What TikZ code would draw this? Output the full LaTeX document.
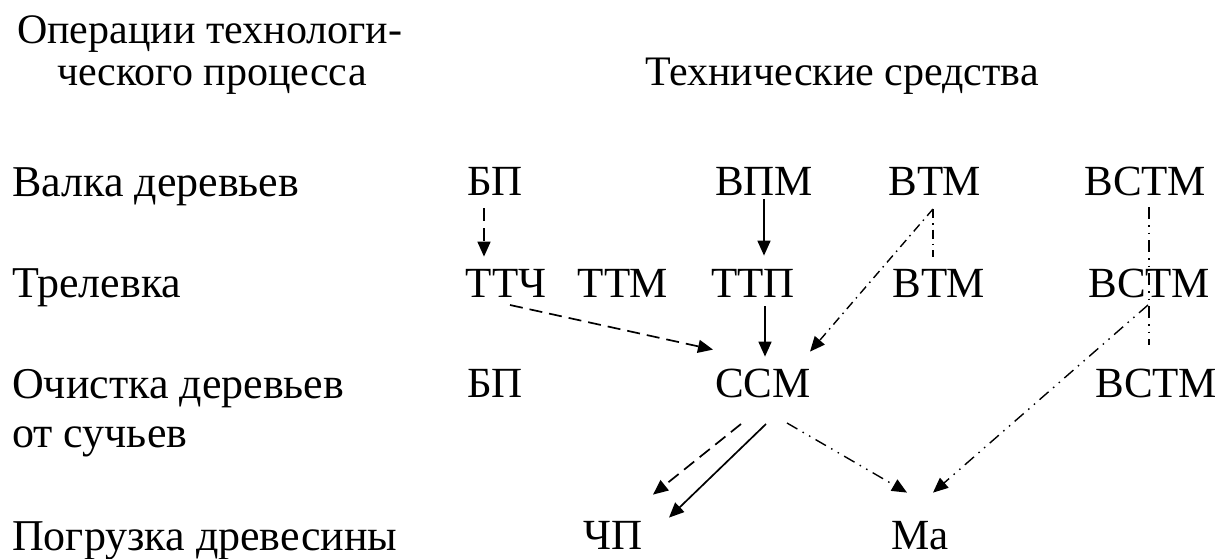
\documentclass[tikz,border=0pt]{standalone}
\usepackage{fontspec}
\setmainfont{Liberation Serif}
\usetikzlibrary{arrows.meta,calc}
\begin{document}
\begin{tikzpicture}[x=1pt,y=-1pt,
  txt/.style={inner sep=0pt,anchor=base west,font=\fontsize{44}{50}\selectfont},
  head/.style={inner sep=0pt,anchor=base west,font=\fontsize{42}{50}\selectfont},
  abbr/.style={inner sep=0pt,anchor=south,text height=30pt,text depth=0pt,font=\fontsize{43}{50}\selectfont},
  conn/.style={line width=1.7pt,black},
  arr/.style={conn,-{Triangle[length=15pt,width=13pt]}},
  dsh/.style={dash pattern=on 13pt off 7pt},
  dd/.style={line width=1.4pt,dash pattern=on 9pt off 5pt on 1.5pt off 5pt},
  ddd/.style={line width=1.4pt,dash pattern=on 12pt off 6pt on 1.5pt off 6pt on 1.5pt off 6pt}]
\useasboundingbox (0,0) rectangle (1220,558);
\fill[white] (0,0) rectangle (1220,558);
% headers
\node[head] (h1) at (17,43) {Операции технологи-};
\node[head] (h2) at (57,85) {ческого процесса};
\node[head] (h3) at (645,85) {Технические средства};
% left column
\node[txt] (l1) at (12,196) {Валка деревьев};
\node[txt] (l2) at (12,297) {Трелевка};
\node[txt] (l3) at (12,398) {Очистка деревьев};
\node[txt] (l3b) at (12,447) {от сучьев};
\node[txt] (l4) at (12,550) {Погрузка древесины};
% abbreviations
\node[abbr] (bp1) at (495,196) {БП};
\node[abbr] (vpm) at (764,196) {ВПМ};
\node[abbr] (vtm1) at (935,196) {ВТМ};
\node[abbr] (vstm1) at (1145,196) {ВСТМ};
\node[abbr] (ttch) at (506,298) {ТТЧ};
\node[abbr] (ttm) at (623,298) {ТТМ};
\node[abbr] (ttp) at (753,298) {ТТП};
\node[abbr] (vtm2) at (939,298) {ВТМ};
\node[abbr] (vstm2) at (1149,298) {ВСТМ};
\node[abbr] (bp3) at (495,398) {БП};
\node[abbr] (ssm) at (763,398) {ССМ};
\node[abbr] (vstm3) at (1156,398) {ВСТМ};
\node[abbr] (chp) at (613,550) {ЧП};
\node[abbr] (ma) at (920,550) {Ма};
% connectors
\draw[arr,dsh] ($(bp1.south)+(-11,12)$) -- ($(ttch.north)+(-22,-11)$);
\draw[arr] ($(vpm.south)+(0,3)$) -- ($(ttp.north)+(11,-12)$);
\draw[arr] ($(ttp.south)+(12,8)$) -- ($(ssm.north)+(2,-11)$);
\draw[arr,dsh] ($(ttch.south)+(4,7)$) -- ($(ssm.north)+(-50,-18)$);
\draw[arr,dd] ($(vtm1.south)+(-2,13)$) -- ($(ssm.north)+(47,-16)$);
\draw[conn,dd] ($(vtm1.south)+(-2,13)$) -- ($(vtm2.north)+(-6,-11)$);
\draw[conn,ddd] ($(vstm1.south)+(4,11)$) -- ($(vstm3.north)+(-7,-23)$);
\draw[arr,ddd] ($(vstm2.south)+(-1,7)$) -- ($(ma.north)+(13,-27)$);
\draw[arr,dsh] ($(ssm.south)+(-22,26)$) -- ($(chp.north)+(40,-25)$);
\draw[arr] ($(ssm.south)+(3,26)$) -- ($(chp.north)+(56,-2)$);
\draw[arr,ddd] ($(ssm.south)+(24,25)$) -- ($(ma.north)+(-13,-27)$);
\end{tikzpicture}
\end{document}
